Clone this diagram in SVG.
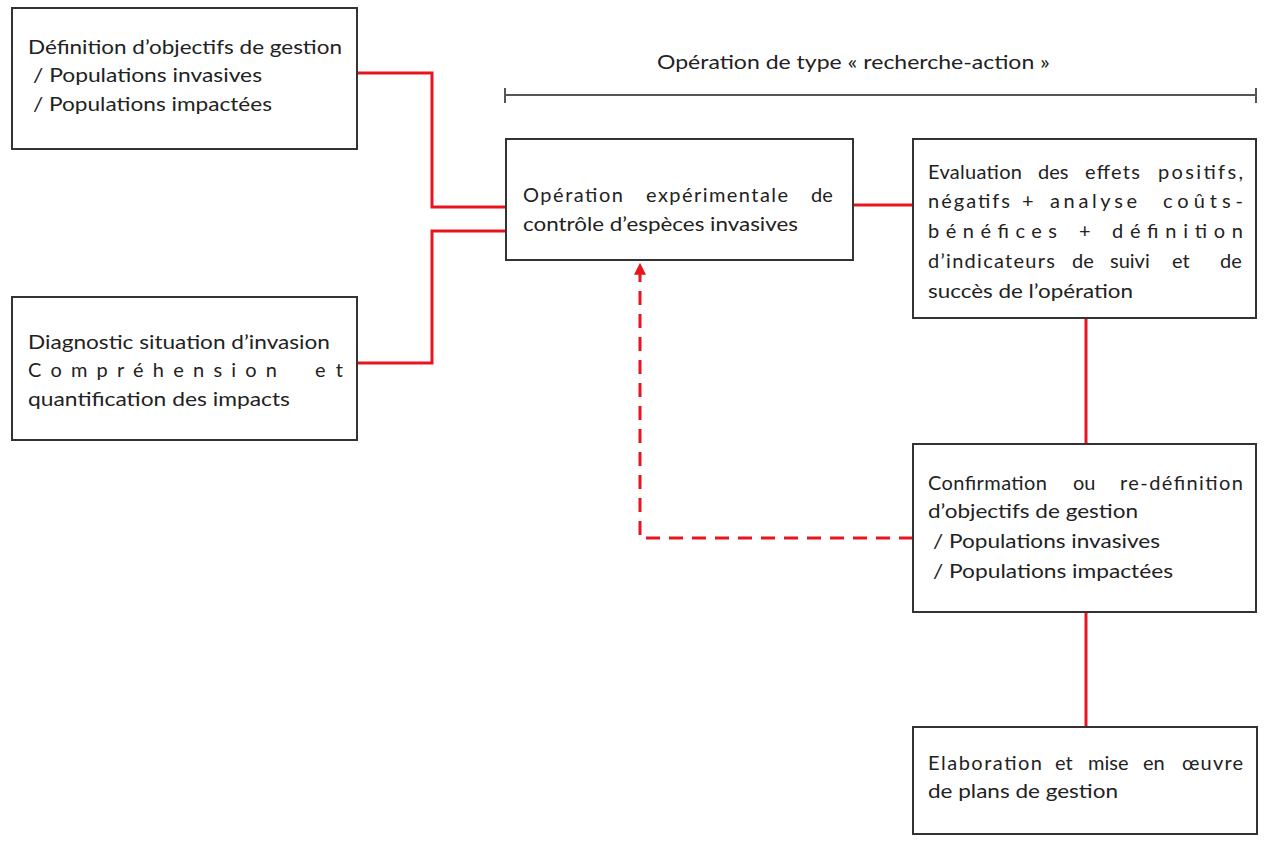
<svg xmlns="http://www.w3.org/2000/svg" width="1265" height="841" viewBox="0 0 1265 841">
<style>
.box{fill:#fff;stroke:#333;stroke-width:2}
.t{font-family:Lato,"Open Sans","Liberation Sans",sans-serif;font-size:20px;fill:#222}
.c{fill:none;stroke:#e8151f;stroke-width:3}
.d{fill:none;stroke:#e8151f;stroke-width:3;stroke-dasharray:14 9}
.br{fill:none;stroke:#555;stroke-width:2}
</style>
<defs>
<marker id="ah" viewBox="0 0 10 10" refX="9" refY="5" markerWidth="4" markerHeight="4" orient="auto">
<path d="M0,0 L10,5 L0,10 Z" fill="#e8151f"/>
</marker>
</defs>
<rect width="1265" height="841" fill="#fff"/>
<g id="connectors">
<polyline class="c" points="357,73 432,73 432,207 506,207"/>
<polyline class="c" points="506,231 432,231 432,363 357,363"/>
<line class="c" x1="853" y1="205" x2="913" y2="205"/>
<line class="c" x1="1086" y1="318" x2="1086" y2="444"/>
<line class="c" x1="1086" y1="612" x2="1086" y2="727"/>
<polyline class="d" points="913,538 640,538 640,264" marker-end="url(#ah)"/>
</g>
<g id="bracket">
<line class="br" x1="505" y1="95" x2="1256" y2="95"/>
<line class="br" x1="505" y1="88" x2="505" y2="103"/>
<line class="br" x1="1256" y1="88" x2="1256" y2="103"/>
<text class="t" x="657" y="69" textLength="393" lengthAdjust="spacingAndGlyphs">Opération de type « recherche-action »</text>
</g>
<g id="n1">
<rect class="box" x="12" y="8" width="345" height="141"/>
<text class="t" x="28" y="54" textLength="314" lengthAdjust="spacingAndGlyphs">Définition d’objectifs de gestion</text>
<text class="t" x="33" y="82" textLength="229" lengthAdjust="spacingAndGlyphs">/ Populations invasives</text>
<text class="t" x="33" y="111" textLength="239" lengthAdjust="spacingAndGlyphs">/ Populations impactées</text>
</g>
<g id="n2">
<rect class="box" x="12" y="297" width="345" height="143"/>
<text class="t" x="28" y="349" textLength="302" lengthAdjust="spacingAndGlyphs">Diagnostic situation d’invasion</text>
<text class="t" y="377"><tspan x="28" textLength="249" lengthAdjust="spacing">Compréhension</tspan><tspan x="315" textLength="28" lengthAdjust="spacing">et</tspan></text>
<text class="t" x="28" y="406" textLength="262" lengthAdjust="spacingAndGlyphs">quantification des impacts</text>
</g>
<g id="n3">
<rect class="box" x="506" y="139" width="347" height="121"/>
<text class="t" y="202"><tspan x="523" textLength="100" lengthAdjust="spacing">Opération</tspan><tspan x="646" textLength="142" lengthAdjust="spacing">expérimentale</tspan><tspan x="811">de</tspan></text>
<text class="t" x="523" y="231" textLength="275" lengthAdjust="spacingAndGlyphs">contrôle d’espèces invasives</text>
</g>
<g id="n4">
<rect class="box" x="913" y="139" width="343" height="179"/>
<text class="t" y="179"><tspan x="928" textLength="94" lengthAdjust="spacing">Evaluation</tspan><tspan x="1038">des</tspan><tspan x="1085" textLength="55" lengthAdjust="spacing">effets</tspan><tspan x="1158" textLength="85" lengthAdjust="spacing">positifs,</tspan></text>
<text class="t" y="208"><tspan x="928" textLength="82" lengthAdjust="spacing">négatifs</tspan><tspan x="1022">+</tspan><tspan x="1050" textLength="87" lengthAdjust="spacing">analyse</tspan><tspan x="1163" textLength="80" lengthAdjust="spacing">coûts-</tspan></text>
<text class="t" y="238"><tspan x="928" textLength="129" lengthAdjust="spacing">bénéfices</tspan><tspan x="1079">+</tspan><tspan x="1112" textLength="131" lengthAdjust="spacing">définition</tspan></text>
<text class="t" y="268"><tspan x="928" textLength="127" lengthAdjust="spacing">d’indicateurs</tspan><tspan x="1072">de</tspan><tspan x="1110">suivi</tspan><tspan x="1172">et</tspan><tspan x="1220">de</tspan></text>
<text class="t" x="928" y="298" textLength="205" lengthAdjust="spacingAndGlyphs">succès de l’opération</text>
</g>
<g id="n5">
<rect class="box" x="913" y="444" width="343" height="168"/>
<text class="t" y="490"><tspan x="928" textLength="119" lengthAdjust="spacing">Confirmation</tspan><tspan x="1073">ou</tspan><tspan x="1120" textLength="123" lengthAdjust="spacing">re-définition</tspan></text>
<text class="t" x="928" y="518" textLength="210" lengthAdjust="spacingAndGlyphs">d’objectifs de gestion</text>
<text class="t" x="933" y="548" textLength="227" lengthAdjust="spacingAndGlyphs">/ Populations invasives</text>
<text class="t" x="933" y="578" textLength="240" lengthAdjust="spacingAndGlyphs">/ Populations impactées</text>
</g>
<g id="n6">
<rect class="box" x="913" y="727" width="344" height="107"/>
<text class="t" y="770"><tspan x="928" textLength="114" lengthAdjust="spacing">Elaboration</tspan><tspan x="1055">et</tspan><tspan x="1088">mise</tspan><tspan x="1143">en</tspan><tspan x="1182" textLength="61" lengthAdjust="spacing">œuvre</tspan></text>
<text class="t" x="928" y="798" textLength="190" lengthAdjust="spacingAndGlyphs">de plans de gestion</text>
</g>
</svg>
